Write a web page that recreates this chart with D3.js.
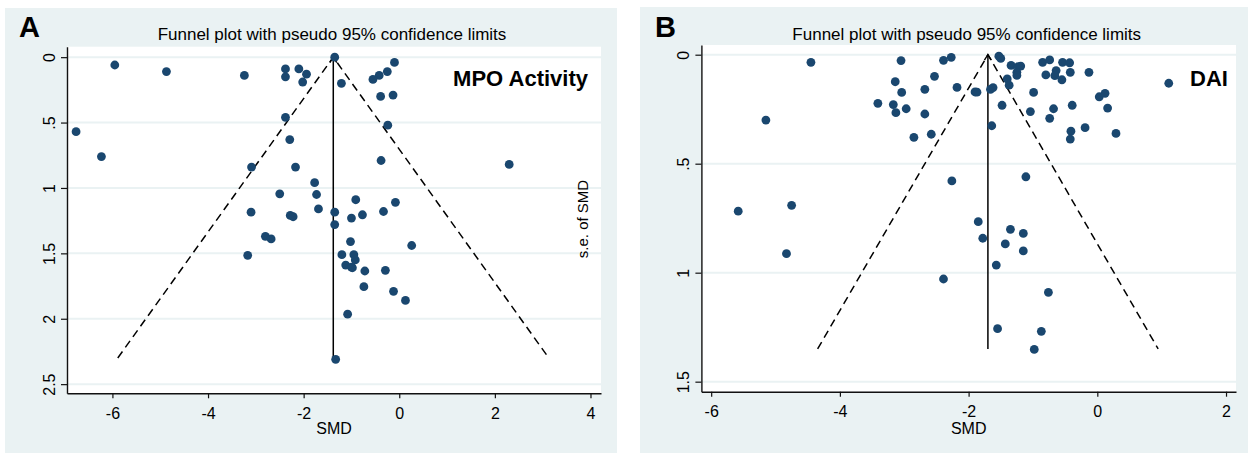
<!DOCTYPE html>
<html>
<head>
<meta charset="utf-8">
<script src="https://cdn.jsdelivr.net/npm/d3@7"></script>
<style>
body{margin:0;background:#fff}
svg{display:block;font-family:Arial,"Liberation Sans",sans-serif}
</style>
</head>
<body>
<svg id="chart" width="1248" height="454"></svg>
<script>
// Panel A : MPO activity (SMD vs s.e. of SMD)
var smdA=[-1.35,-5.95,-4.87,-3.24,-2.38,-2.38,-2.10,-1.94,-2.02,-1.21,-0.10,-0.25,-0.42,-0.55,-0.39,-0.13,
-2.38,-0.24,-6.76,-6.23,-2.29,-0.38,2.30,-3.09,-2.17,-1.77,-2.50,-1.73,-0.91,-0.08,-1.69,-3.10,-1.35,-2.28,
-2.22,-1.00,-0.77,-0.33,-1.35,-2.80,-2.68,-1.02,0.26,-3.17,-1.20,-0.95,-0.92,-1.12,-0.98,-1.00,-0.72,-0.29,
-0.74,-0.12,0.13,-1.08,-1.33];
var seA=[0.00,0.06,0.11,0.14,0.09,0.15,0.09,0.13,0.19,0.20,0.04,0.11,0.14,0.17,0.30,0.29,
0.46,0.52,0.57,0.76,0.63,0.79,0.82,0.84,0.84,0.96,1.045,1.05,1.09,1.11,1.16,1.185,1.185,1.21,
1.22,1.23,1.205,1.18,1.28,1.37,1.39,1.41,1.44,1.515,1.51,1.51,1.55,1.59,1.61,1.605,1.635,1.63,
1.755,1.79,1.86,1.965,2.31];
var pooledA=-1.38, seMaxA=2.3;
var xTicksA=[-6,-4,-2,0,2,4];
var yTicksA=[0,0.5,1,1.5,2,2.5];
var yLabelsA=["0",".5","1","1.5","2","2.5"];

// Panel B : DAI
var smdB=[-4.45,-3.05,-2.39,-2.27,-3.14,-2.53,-3.04,-2.68,-2.18,-1.90,-1.87,-3.41,-3.17,-3.13,-2.97,-2.68,
-2.85,-2.58,-5.15,-2.26,-1.53,-1.50,-1.34,-1.23,-1.19,-1.25,-1.25,-1.40,-1.37,-1.66,-1.62,-1.48,-1.64,-1.11,
-0.99,-1.04,-0.85,-0.74,-0.80,-0.64,-0.66,-0.55,-0.54,-0.43,-0.42,-0.68,-0.74,-0.39,-0.13,0.03,0.12,0.16,
-0.41,-0.42,-0.19,0.29,1.11,-5.58,-4.75,-4.83,-1.85,-1.78,-2.39,-1.35,-1.15,-1.43,-1.15,-1.57,-0.76,-1.55,
-0.87,-0.98];
var seB=[0.035,0.027,0.026,0.012,0.124,0.099,0.173,0.159,0.150,0.171,0.172,0.223,0.229,0.266,0.248,0.272,
0.379,0.365,0.300,0.579,0.007,0.017,0.049,0.055,0.052,0.081,0.095,0.111,0.140,0.159,0.151,0.232,0.326,0.560,
0.173,0.261,0.035,0.024,0.093,0.073,0.096,0.115,0.035,0.037,0.081,0.248,0.292,0.232,0.081,0.193,0.177,0.245,
0.351,0.387,0.335,0.361,0.131,0.718,0.691,0.913,0.766,0.842,1.029,0.801,0.820,0.868,0.900,0.965,1.090,1.257,
1.269,1.352];
var pooledB=-1.70, seMaxB=1.35;
var xTicksB=[-6,-4,-2,0,2];
var yTicksB=[0,0.5,1,1.5];
var yLabelsB=["0",".5","1","1.5"];

var svg=d3.select("#chart");
var bg="#eaf2f3", navy="#1a476f";
var fam="Arial, 'Liberation Sans', sans-serif";

function funnel(o){
	var g=svg.append("g");
	g.append("rect").attr("x",o.bx).attr("y",o.by).attr("width",o.bw).attr("height",o.bh).attr("fill",bg);

	var x=d3.scaleLinear().domain(o.xDom).range([o.left,o.right]);
	var y=d3.scaleLinear().domain(o.yDom).range([o.top,o.bottom]);

	g.append("rect").attr("x",o.left).attr("y",o.top)
		.attr("width",o.right-o.left).attr("height",o.bottom-o.top).attr("fill","#fff");

	// horizontal grid
	g.selectAll("line.grid").data(o.yTicks).enter().append("line")
		.attr("class","grid")
		.attr("x1",o.left).attr("x2",o.right)
		.attr("y1",function(d){return y(d)}).attr("y2",function(d){return y(d)})
		.attr("stroke",bg).attr("stroke-width",2);

	// axes
	var xa=g.append("g").attr("transform","translate(0,"+o.bottom+")")
		.call(d3.axisBottom(x).tickValues(o.xTicks).tickSize(5).tickSizeOuter(0)
			.tickFormat(function(d){return String(d)}));
	xa.selectAll("text").attr("y",25.5).attr("dy",null)
		.style("font-size","16px").style("font-family",fam).attr("fill","#000");

	var ya=g.append("g").attr("transform","translate("+o.left+",0)")
		.call(d3.axisLeft(y).tickValues(o.yTicks).tickSize(6).tickSizeOuter(0)
			.tickFormat(function(d,i){return o.yLabels[i]}));
	ya.selectAll("text").attr("x",null).attr("dy",null).attr("text-anchor","middle")
		.attr("transform","translate(-12.5,0) rotate(-90)")
		.style("font-size","16px").style("font-family",fam).attr("fill","#000");
	g.selectAll(".domain").attr("stroke","#111").attr("stroke-width",1.4);
	g.selectAll(".tick line").attr("stroke","#111").attr("stroke-width",1.2);

	// pseudo 95% limits
	var lim=[[o.pooled-1.96*o.seMax,o.seMax],[o.pooled,0],[o.pooled+1.96*o.seMax,o.seMax]];
	g.append("path")
		.attr("d",d3.line().x(function(d){return x(d[0])}).y(function(d){return y(d[1])})(lim))
		.attr("fill","none").attr("stroke","#000").attr("stroke-width",1.5).attr("stroke-dasharray","8,5");

	// pooled estimate line with open arrow head
	var ax=x(o.pooled), ay=y(0);
	g.append("line").attr("x1",ax).attr("x2",ax).attr("y1",ay).attr("y2",y(o.seMax))
		.attr("stroke","#000").attr("stroke-width",1.5);
	g.append("path").attr("d","M"+(ax-3.5)+","+(ay+5.5)+"L"+ax+","+ay+"L"+(ax+3.5)+","+(ay+5.5))
		.attr("fill","none").attr("stroke","#000").attr("stroke-width",1.4);

	// studies
	g.selectAll("circle").data(o.smd).enter().append("circle")
		.attr("cx",function(d){return x(d)})
		.attr("cy",function(d,i){return y(o.se[i])})
		.attr("r",4.4).attr("fill",navy);

	var mid=(o.left+o.right)/2;
	g.append("text").attr("x",mid-2).attr("y",40).attr("text-anchor","middle")
		.style("font-size","17px").text("Funnel plot with pseudo 95% confidence limits");
	g.append("text").attr("x",mid).attr("y",433.5).attr("text-anchor","middle")
		.style("font-size","16px").text("SMD");
	g.append("text").attr("x",o.letterX).attr("y",37).style("font-size","29px").style("font-weight","bold")
		.text(o.letter);
	return g;
}

var gA=funnel({bx:5,by:8,bw:612,bh:445,left:67,right:601,top:46.7,bottom:393.3,
	xDom:[-6.95,4.22],yDom:[-0.08,2.57],xTicks:xTicksA,yTicks:yTicksA,yLabels:yLabelsA,
	smd:smdA,se:seA,pooled:pooledA,seMax:seMaxA,letter:"A",letterX:19});
gA.append("text").attr("x",588).attr("y",86).attr("text-anchor","end")
	.style("font-size","22px").style("font-weight","bold").text("MPO Activity");
gA.append("text").attr("transform","translate(588,219) rotate(-90)").attr("text-anchor","middle")
	.style("font-size","15px").text("s.e. of SMD");

var gB=funnel({bx:640,by:7,bw:608,bh:446,left:701.4,right:1236,top:45,bottom:391.7,
	xDom:[-6.152,2.155],yDom:[-0.0445,1.546],xTicks:xTicksB,yTicks:yTicksB,yLabels:yLabelsB,
	smd:smdB,se:seB,pooled:pooledB,seMax:seMaxB,letter:"B",letterX:655});
gB.append("text").attr("x",1190).attr("y",86)
	.style("font-size","22px").style("font-weight","bold").text("DAI");
</script>
</body>
</html>
